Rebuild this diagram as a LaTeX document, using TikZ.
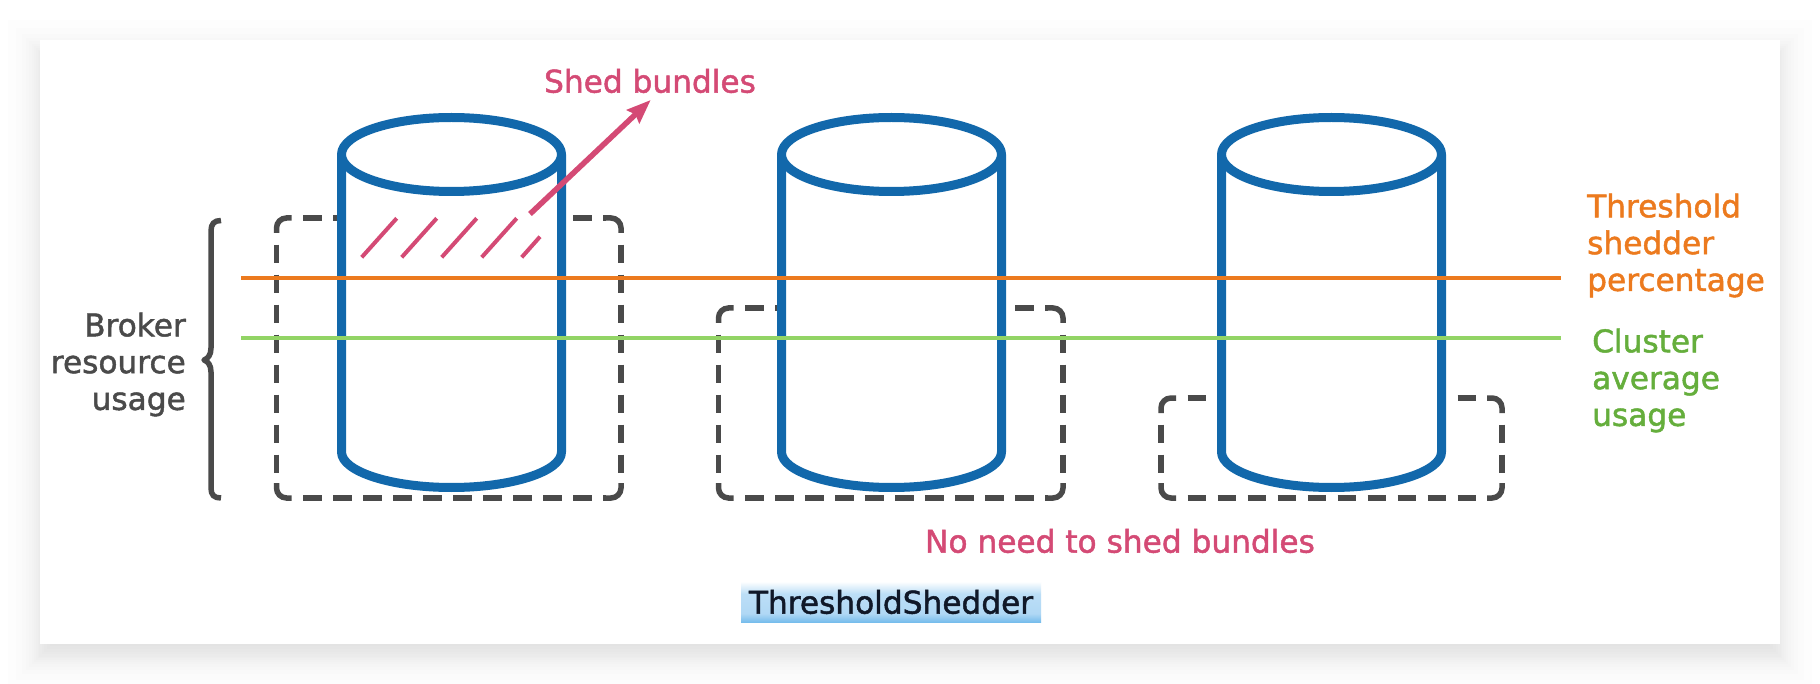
\documentclass[tikz,border=0pt]{standalone}
\usepackage{fontspec}
\setmainfont{DejaVu Sans}[FakeBold=1.5]
\usetikzlibrary{arrows.meta}

\definecolor{drumblue}{HTML}{1268AB}
\definecolor{boxgrey}{HTML}{4A4A4A}
\definecolor{shedpink}{HTML}{D44A75}
\definecolor{limitorange}{HTML}{EC7A1E}
\definecolor{avgline}{HTML}{92D465}
\definecolor{avgtext}{HTML}{65AE3C}
\definecolor{captiontext}{HTML}{101828}
\definecolor{capdeep}{HTML}{74BBEB}
\definecolor{capmid}{HTML}{B0D8F5}
\definecolor{caplight}{HTML}{BCDEF6}

\pgfdeclareverticalshading{captionfade}{100bp}{
  color(0bp)=(capdeep);
  color(25bp)=(capdeep);
  color(36bp)=(capmid);
  color(60bp)=(caplight);
  color(75bp)=(white);
  color(100bp)=(white)}

% dashed usage box: sides first, corners after
\newcommand{\usagebox}[4]{
  \draw[boxdash]
    (#1+26.6,#2) -- (#3-15,#2)
    (#1+26.6,#4) -- (#3-15,#4)
    (#1,#2+26.6) -- (#1,#4-15)
    (#3,#2+26.6) -- (#3,#4-15);
  \draw[boxline,rounded corners=10pt]
    (#1,#2+15) -- (#1,#2) -- (#1+15,#2)
    (#3-15,#2) -- (#3,#2) -- (#3,#2+15)
    (#1,#4-15) -- (#1,#4) -- (#1+15,#4)
    (#3-15,#4) -- (#3,#4) -- (#3,#4-15);
}

\begin{document}
\begin{tikzpicture}[x=1pt,y=-1pt,>={Stealth[length=24pt,width=18pt,inset=3pt]},
  boxline/.style={draw=boxgrey,line width=5.5pt},
  boxdash/.style={boxline,dash pattern=on 18.5pt off 11.5pt},
  drum/.style={draw=drumblue,fill=white,line width=9pt,line join=round},
  hatch/.style={draw=shedpink,line width=4pt},
  limit/.style={line width=4pt},
  lab/.style={inner sep=0pt,font=\fontsize{31.2}{36.8}\selectfont}]
  \useasboundingbox (0,0) rectangle (1820,684);

  \foreach \k in {-10,-7,-4,-2,1,2,4,6,8,11,14,18,24,32}
    \fill[black,opacity=0.008] (40-\k,52-\k) rectangle (1780+\k,656+\k);
  \fill[white] (40,40) rectangle (1780,644);

  \usagebox{276.5}{218}{621}{498}
  \usagebox{718.5}{308}{1063}{498}
  \usagebox{1161}{398}{1502}{498}

  \draw[drum] (341.5,154.5) -- (341.5,452)
    .. controls (341.5,471.5) and (391,487.5) .. (451.5,487.5)
    .. controls (512,487.5) and (561.5,471.5) .. (561.5,452) -- (561.5,154.5);
  \draw[drum] (451.5,154.5) ellipse [x radius=110pt,y radius=37pt];
  \draw[drum] (781.5,154.5) -- (781.5,452)
    .. controls (781.5,471.5) and (831,487.5) .. (891.5,487.5)
    .. controls (952,487.5) and (1001.5,471.5) .. (1001.5,452) -- (1001.5,154.5);
  \draw[drum] (891.5,154.5) ellipse [x radius=110pt,y radius=37pt];
  \draw[drum] (1221.5,154.5) -- (1221.5,452)
    .. controls (1221.5,471.5) and (1271,487.5) .. (1331.5,487.5)
    .. controls (1392,487.5) and (1441.5,471.5) .. (1441.5,452) -- (1441.5,154.5);
  \draw[drum] (1331.5,154.5) ellipse [x radius=110pt,y radius=37pt];

  \coordinate (h1a) at (361.7,257.3);
  \coordinate (h1b) at (396.7,218.3);
  \coordinate (h2a) at (401.7,257.3);
  \coordinate (h2b) at (436.7,218.3);
  \coordinate (h3a) at (441.7,257.3);
  \coordinate (h3b) at (476.7,218.3);
  \coordinate (h4a) at (481.7,257.3);
  \coordinate (h4b) at (516.7,218.3);
  \coordinate (h5a) at (521.7,257.3);
  \coordinate (h5b) at (540,236.7);
  \path[hatch]
    (h1a) edge (h1b)
    (h2a) edge (h2b)
    (h3a) edge (h3b)
    (h4a) edge (h4b)
    (h5a) edge (h5b);

  \node[lab,text=shedpink] (shed) at (650,81) {Shed bundles};
  \coordinate (arrowfoot) at (530,214);
  \coordinate (arrowtip) at (650.7,100);
  \draw[->,draw=shedpink,line width=5.5pt] (arrowfoot) -- (arrowtip);

  \coordinate (limita) at (241,278);
  \coordinate (limitb) at (1561,278);
  \coordinate (avga) at (241,338);
  \coordinate (avgb) at (1561,338);
  \draw[limit,draw=limitorange] (limita) -- (limitb);
  \draw[limit,draw=avgline] (avga) -- (avgb);

  \draw[boxline,line join=round] (221,220.5) .. controls (214,220.5) and (211,224) .. (211,231)
    -- (211,348) .. controls (211,355) and (208,358.5) .. (204,360)
    .. controls (208,361.5) and (211,365) .. (211,372) -- (211,488)
    .. controls (211,495) and (214,498) .. (221,498);

  \node[lab,text=boxgrey,align=right,anchor=east] (usage) at (186,364.5) {Broker\\resource\\usage};
  \node[lab,text=limitorange,align=left,anchor=west] (limit) at (1587,245.5) {Threshold\\shedder\\percentage};
  \node[lab,text=avgtext,align=left,anchor=west] (avg) at (1592,380.5) {Cluster\\average\\usage};
  \node[lab,text=shedpink] (noneed) at (1120,541) {No need to shed bundles};
  \node[lab,text=captiontext,shading=captionfade,minimum width=300pt,minimum height=41pt] (caption) at (891,602) {ThresholdShedder};
\end{tikzpicture}
\end{document}
